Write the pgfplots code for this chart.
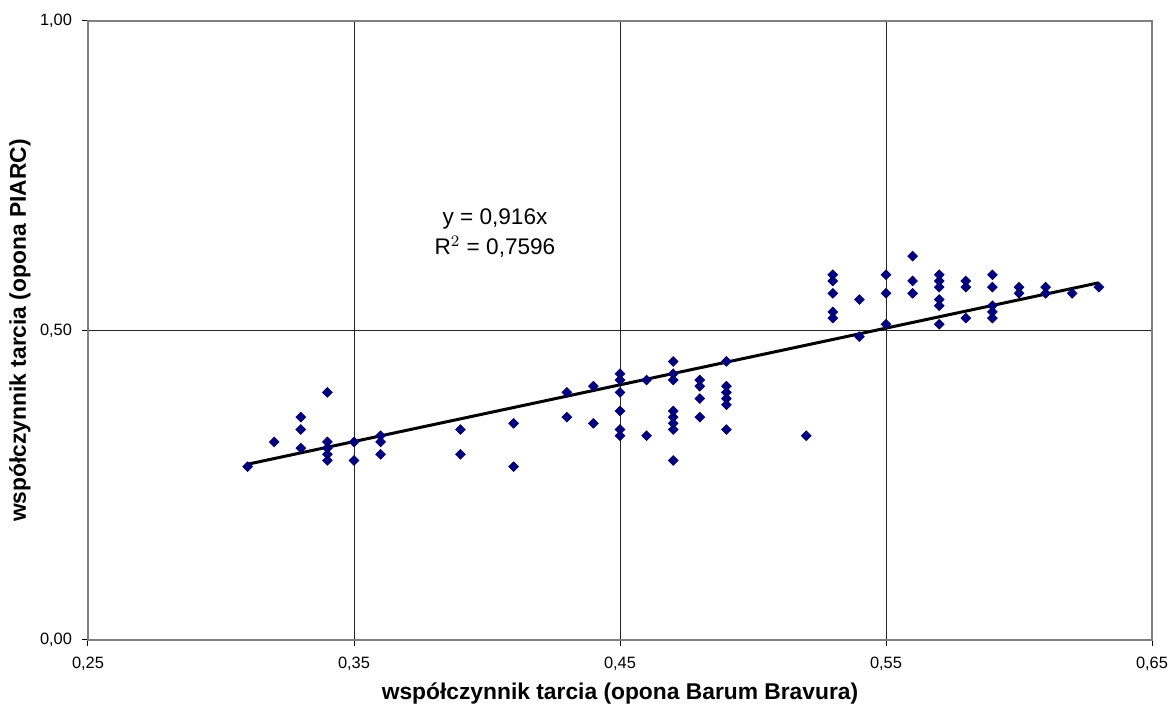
\documentclass[border=0pt]{standalone}
\usepackage{pgfplots}
\pgfplotsset{compat=1.18}
\usepackage{fontspec}
\setmainfont{Liberation Sans}
\definecolor{navy}{RGB}{0,0,128}
\definecolor{bordergray}{RGB}{128,128,128}
\begin{document}
\begin{tikzpicture}
\begin{axis}[
  name=ax,
  scale only axis,
  width=532pt, height=309.5pt,
  xmin=0.25, xmax=0.65, ymin=0, ymax=1,
  xtick={0.25,0.35,0.45,0.55,0.65},
  ytick={0,0.5,1},
  xticklabels={{0,25},{0,35},{0,45},{0,55},{0,65}},
  yticklabels={{0,00},{0,50},{1,00}},
  tick label style={font=\fontsize{8.2}{9.5}\selectfont},
  xticklabel style={yshift=-1.8pt},
  yticklabel style={xshift=-1.5pt},
  grid=major,
  major grid style={black!85, line width=0.45pt},
  axis line style={bordergray, line width=0.6pt},
  tick style={black, line width=0.5pt},
  tick align=outside,
  major tick length=3pt,
  xtick pos=bottom, ytick pos=left,
  xlabel={\bfseries współczynnik tarcia (opona Barum Bravura)},
  ylabel={\bfseries współczynnik tarcia (opona PIARC)},
  label style={font=\fontsize{11.4}{13}\selectfont},
  xlabel style={at={(axis description cs:0.5,0)}, anchor=center, yshift=-27pt},
  ylabel style={at={(axis description cs:0,0.5)}, anchor=center, rotate=0, yshift=34pt},
  clip=false,
]
\addplot[only marks, mark=diamond*, mark size=2.4pt, mark options={navy, fill=navy, xscale=1.33}] coordinates {
(0.31,0.28) (0.32,0.32) (0.33,0.36) (0.33,0.34) (0.33,0.31)
(0.34,0.40) (0.34,0.32) (0.34,0.31) (0.34,0.30) (0.34,0.29)
(0.35,0.32) (0.35,0.29)
(0.36,0.33) (0.36,0.32) (0.36,0.30)
(0.39,0.34) (0.39,0.30)
(0.41,0.35) (0.41,0.28)
(0.43,0.40) (0.43,0.36)
(0.44,0.41) (0.44,0.35)
(0.45,0.43) (0.45,0.42) (0.45,0.40) (0.45,0.37) (0.45,0.34) (0.45,0.33)
(0.46,0.42) (0.46,0.33)
(0.47,0.45) (0.47,0.43) (0.47,0.42) (0.47,0.37) (0.47,0.36) (0.47,0.35) (0.47,0.34) (0.47,0.29)
(0.48,0.42) (0.48,0.41) (0.48,0.39) (0.48,0.36)
(0.49,0.45) (0.49,0.41) (0.49,0.40) (0.49,0.39) (0.49,0.38) (0.49,0.34)
(0.52,0.33)
(0.53,0.59) (0.53,0.58) (0.53,0.56) (0.53,0.53) (0.53,0.52)
(0.54,0.55) (0.54,0.49)
(0.55,0.59) (0.55,0.56) (0.55,0.51)
(0.56,0.62) (0.56,0.58) (0.56,0.56)
(0.57,0.59) (0.57,0.58) (0.57,0.57) (0.57,0.55) (0.57,0.54) (0.57,0.51)
(0.58,0.58) (0.58,0.57) (0.58,0.52)
(0.59,0.59) (0.59,0.57) (0.59,0.54) (0.59,0.53) (0.59,0.52)
(0.60,0.57) (0.60,0.56)
(0.61,0.57) (0.61,0.56)
(0.62,0.56)
(0.63,0.57)
};
\addplot[black, line width=1.5pt] coordinates {(0.31,0.28396) (0.63,0.57708)};
\node[align=center, font=\fontsize{11.3}{15}\selectfont] at (axis cs:0.403,0.657) {y = 0,916x\\R$^2$ = 0,7596};
\end{axis}
\pgfresetboundingbox
\path[use as bounding box] ([xshift=-44pt,yshift=-34.5pt]ax.south west) rectangle ([xshift=9pt,yshift=10.5pt]ax.north east);
\end{tikzpicture}
\end{document}
